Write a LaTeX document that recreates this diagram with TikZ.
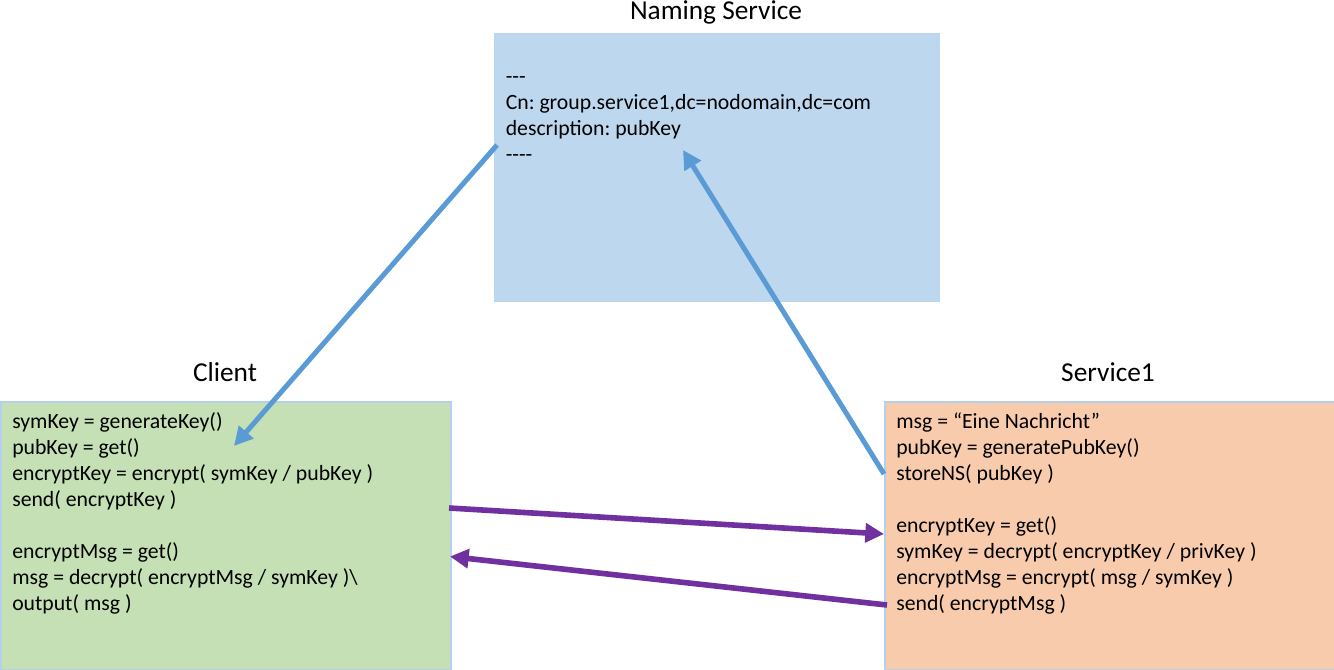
\documentclass[tikz,border=0pt]{standalone}
\usepackage{fontspec}
\setmainfont{Carlito}
\usepackage{xcolor}
\usetikzlibrary{arrows.meta}
\frenchspacing

\definecolor{nsblue}{HTML}{BDD7EE}
\definecolor{clientgreen}{HTML}{C5E0B4}
\definecolor{serviceorange}{HTML}{F8CBAD}
\definecolor{edgeblue}{HTML}{B4D0EC}
\definecolor{arrowblue}{HTML}{5B9BD5}
\definecolor{arrowpurple}{HTML}{7030A0}

\begin{document}
\begin{tikzpicture}[x = 0.75pt, y = -0.75pt,
		box/.style = {anchor = north west, inner sep = 0pt, minimum width = 337.5pt, minimum height = 201pt, draw = edgeblue, line width = 1.2pt},
		title/.style = {anchor = base, font = \fontsize{20.5}{24}\selectfont},
		code/.style = {anchor = base west, align = left, inner sep = 0pt, font = \fontsize{16.3}{19.5}\selectfont}]
							\useasboundingbox (0,0) rectangle (1334,669);

							\node [box, fill = nsblue, draw = nsblue, minimum width = 333pt, minimum height = 200.25pt] (naming) at (494,33) {};
							\node [box, fill = clientgreen] (client) at (0,401) {};
							\node [box, fill = serviceorange] (service) at (884,401) {};

							\node [title] (namingtitle) at (716,19.5) {Naming Service};
							\node [title] (clienttitle) at (225,381.7) {Client};
							\node [title] (servicetitle) at (1108,381.7) {Service1};

							\node [code] (namingtext) at (505.5,161) {-{}-{}-\\Cn: group.service1,dc=nodomain,dc=com\\description: pubKey\\-{}-{}-{}-};
							\node [code] (clienttext) at (12,610.7) {symKey = generateKey()\\pubKey = get()\\encryptKey = encrypt( symKey / pubKey )\\send( encryptKey )\\[19.5pt]encryptMsg = get()\\msg = decrypt( encryptMsg / symKey )\textbackslash\\output( msg )};
							\node [code] (servicetext) at (896,610.7) {msg = “Eine Nachricht”\\pubKey = generatePubKey()\\storeNS( pubKey )\\[19.5pt]encryptKey = get()\\symKey = decrypt( encryptKey / privKey )\\encryptMsg = encrypt( msg / symKey )\\send( encryptMsg )};

							\coordinate (nsout) at (497,145);
							\coordinate (clientin) at (234,446);
							\coordinate (serviceout) at (884,474);
							\coordinate (nsin) at (683,150);
							\coordinate (keyout) at (449,508);
							\coordinate (keyin) at (884,534);
							\coordinate (msgout) at (887,605);
							\coordinate (msgin) at (450,556.5);

							\begin{scope}[-{Triangle[length = 14pt, width = 14pt]}]
								\draw [arrowblue, line width = 3.75pt] (nsout) -- (clientin);
								\draw [arrowblue, line width = 3.75pt] (serviceout) -- (nsin);
								\draw [arrowpurple, line width = 4.2pt] (keyout) -- (keyin);
								\draw [arrowpurple, line width = 4.2pt] (msgout) -- (msgin);
							\end{scope}
						\end{tikzpicture}
\end{document}
